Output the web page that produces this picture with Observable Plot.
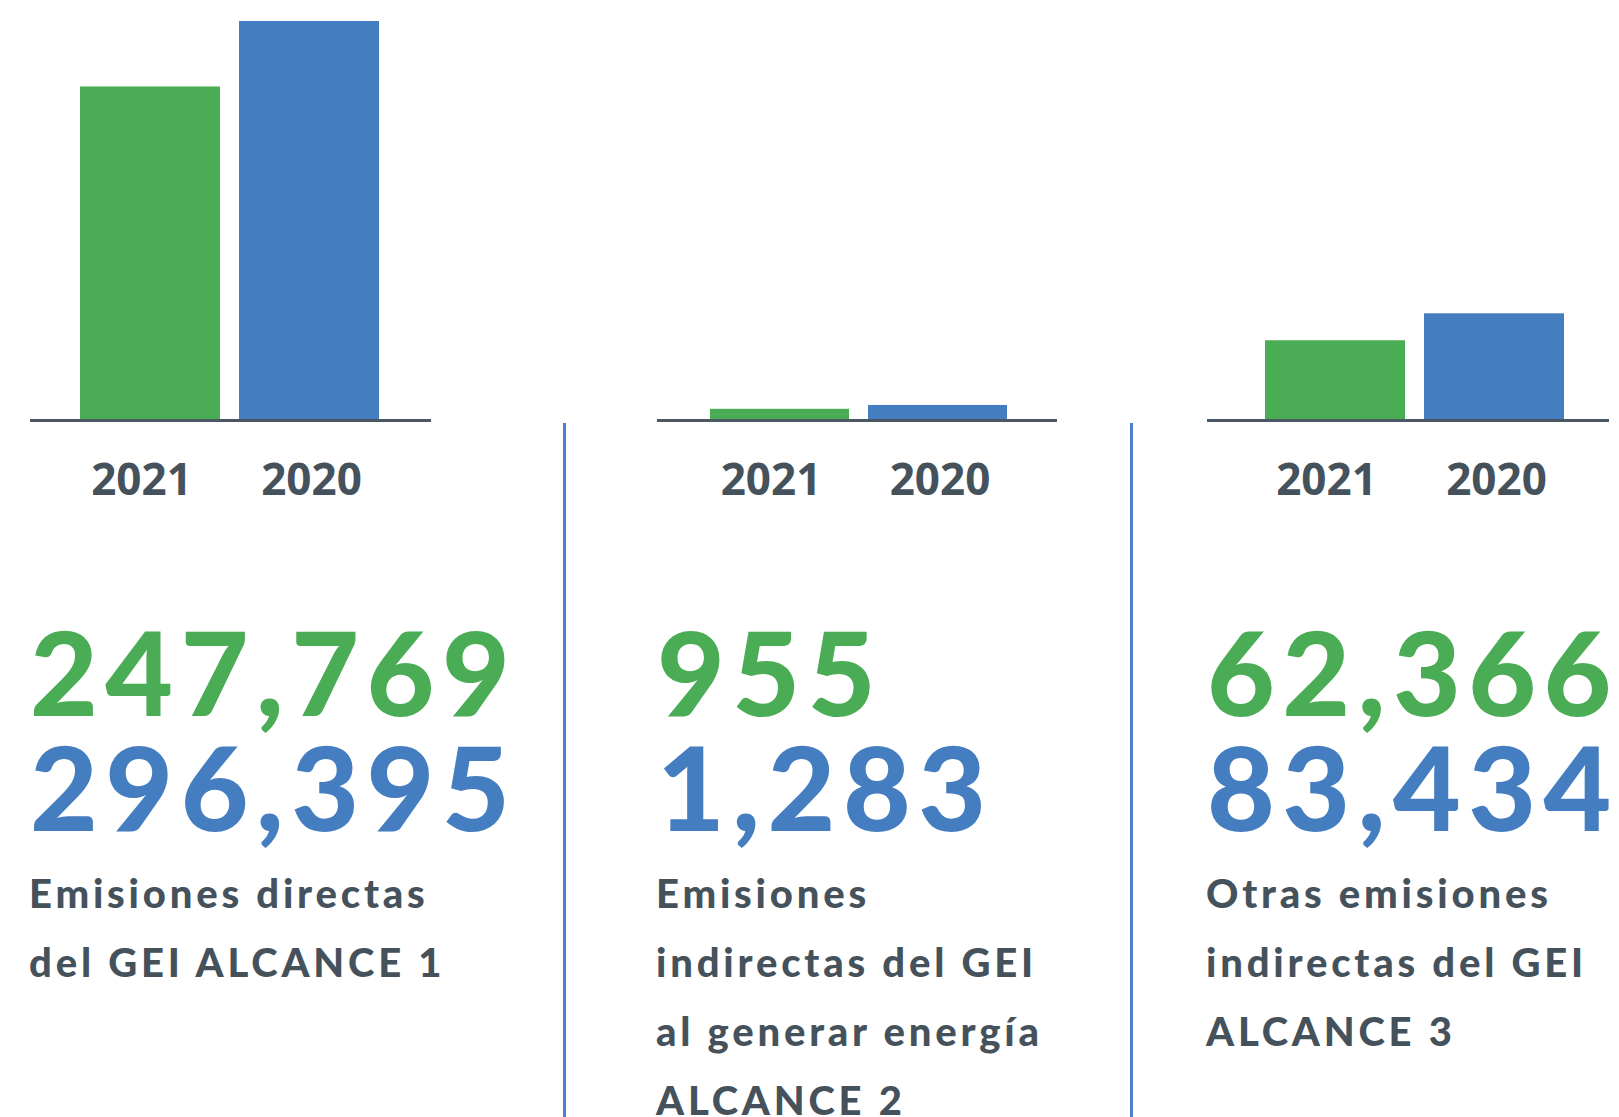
<!DOCTYPE html>
<html>
<head>
<meta charset="utf-8">
<script src="https://cdn.jsdelivr.net/npm/d3@7"></script>
<script src="https://cdn.jsdelivr.net/npm/@observablehq/plot@0.6"></script>
<style>
  html, body { margin: 0; padding: 0; background: #ffffff; }
  #root { position: relative; width: 1619px; height: 1117px; overflow: hidden; background: #fff; }
  .panel { position: absolute; top: 0; }
  .panel text { font-family: "Open Sans", sans-serif; font-weight: 700; }
  .sep { position: absolute; top: 423px; height: 720px; width: 3px; background: #4a80c8; }
  #overlay { position: absolute; left: 0; top: 0; pointer-events: none; }
  .big { font-family: "Lato", sans-serif; font-weight: 900; font-size: 117px; letter-spacing: 7.5px; }
  .desc { font-family: "Lato", sans-serif; font-weight: 900; font-size: 40px; letter-spacing: 3.8px; }
</style>
</head>
<body>
<div id="root"></div>
<script>
// ---- data ----
const years = ["2021", "2020"];
const scopes = ["ALCANCE 1", "ALCANCE 2", "ALCANCE 3"];
const emissions2021 = [247769, 955, 62366];
const emissions2020 = [296395, 1283, 83434];
const descriptions = [
  ["Emisiones directas", "del GEI ALCANCE 1"],
  ["Emisiones", "indirectas del GEI", "al generar energía", "ALCANCE 2"],
  ["Otras emisiones", "indirectas del GEI", "ALCANCE 3"]
];

// ---- styling / layout ----
const GREEN = "#4aac54";
const BLUE = "#457ec0";
const INK = "#45525c";
const AXIS = "#4b5864";
const panelLeft = [30, 657, 1207];
const panelWidth = [401, 400, 402];
const panelAlign = [0.49, 0.51, 0.56];
const yMax = [296395, 34000, 312000]; // per-panel scale maximum (middle panel exaggerated as in the reference)
const sepX = [563, 1130];

const root = document.getElementById("root");
const fmt = d3.format(",");

scopes.forEach((scope, i) => {
  const data = years.map((year, j) => ({
    scope, year,
    value: j === 0 ? emissions2021[i] : emissions2020[i]
  }));
  const labelOpts = {
    x: "year", y: 0, text: "year", lineAnchor: "bottom", dy: 74,
    fontFamily: "Open Sans", fontWeight: 700, fontSize: 44, fill: INK
  };
  const chart = Plot.plot({
    width: panelWidth[i],
    height: 520,
    marginTop: 21,
    marginBottom: 100,
    marginLeft: 0,
    marginRight: 0,
    style: {background: "transparent", overflow: "visible"},
    x: {domain: years, paddingInner: 0.1226, paddingOuter: 0.322, align: panelAlign[i], axis: null},
    y: {domain: [0, yMax[i]], axis: null},
    color: {domain: years, range: [GREEN, BLUE]},
    marks: [
      Plot.barY(data, {x: "year", y: "value", fill: "year"}),
      Plot.ruleY([0], {stroke: AXIS, strokeWidth: 3}),
      Plot.text(data.filter(d => d.year === years[0]), {...labelOpts, dx: -9}),
      Plot.text(data.filter(d => d.year === years[1]), {...labelOpts, dx: 2})
    ]
  });
  chart.classList.add("panel");
  chart.style.left = panelLeft[i] + "px";
  root.appendChild(chart);
});

sepX.forEach(x => {
  const d = document.createElement("div");
  d.className = "sep";
  d.style.left = x + "px";
  root.appendChild(d);
});

// ---- big numbers and descriptions as real text ----
const svg = d3.select(root).append("svg")
  .attr("id", "overlay")
  .attr("width", 1619).attr("height", 1117);

scopes.forEach((scope, i) => {
  const g = svg.append("g").attr("transform", `translate(${panelLeft[i]},0)`);
  g.append("text").attr("class", "big")
    .attr("x", 0).attr("y", 716)
    .attr("fill", GREEN)
    .text(fmt(emissions2021[i]));
  g.append("text").attr("class", "big")
    .attr("x", 0).attr("y", 831)
    .attr("fill", BLUE)
    .text(fmt(emissions2020[i]));
  descriptions[i].forEach((line, k) => {
    g.append("text").attr("class", "desc")
      .attr("x", -1).attr("y", 908 + k * 69)
      .attr("fill", INK)
      .text(line);
  });
});
</script>
</body>
</html>
